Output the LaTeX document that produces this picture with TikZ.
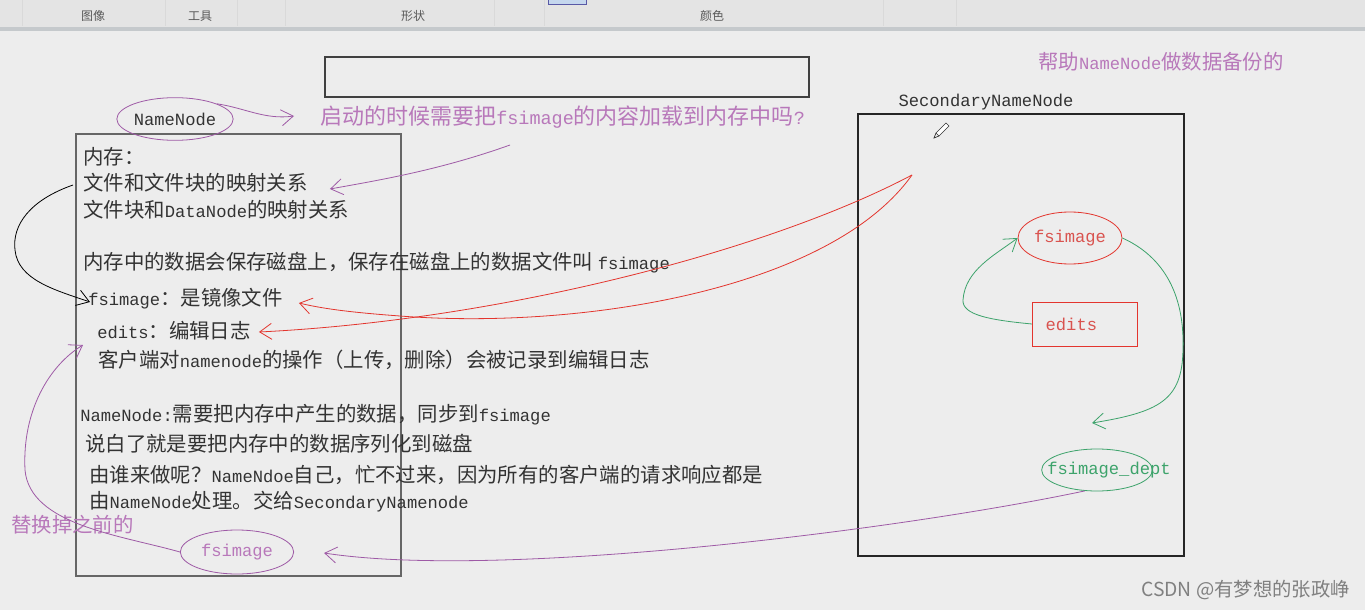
\documentclass[tikz,border=0pt]{standalone}
\usepackage{fontspec}
\setmainfont{Noto Sans CJK SC}
\newfontfamily\lat[Scale=0.84]{Liberation Mono}
\newcommand\la[1]{{\lat #1}}
\usetikzlibrary{arrows.meta,shapes.geometric}
\definecolor{bgpaper}{HTML}{EDEDED}
\definecolor{barbg}{HTML}{E4E4E4}
\definecolor{barline}{HTML}{C5C9CC}
\definecolor{ink}{HTML}{333333}
\definecolor{penpurple}{HTML}{9E5AA6}
\definecolor{txtpurple}{HTML}{B878BA}
\definecolor{penred}{HTML}{E3352E}
\definecolor{txtred}{HTML}{D9534F}
\definecolor{pengreen}{HTML}{3DA36B}
\definecolor{tabblue}{HTML}{C5D7EE}
\tikzset{
  body/.style={anchor=west,inner sep=0pt,text=ink,font=\fontsize{15.3}{18}\selectfont},
  note/.style={body,text=txtpurple},
  ring/.style={ellipse,draw,inner sep=0pt,line width=0.6pt},
  pen/.style={line width=0.6pt,-{Straight Barb[length=9pt,width=12pt,line width=0.6pt]}},
  barlabel/.style={inner sep=0pt,text=black!65,font=\fontsize{9}{10}\selectfont}
}
\begin{document}
\begin{tikzpicture}[x=0.75pt,y=-0.75pt]
\useasboundingbox (0,0) rectangle (1365,610);
\fill[bgpaper] (0,0) rectangle (1365,610);
\fill[barbg] (0,0) rectangle (1365,27);
\fill[barline] (0,27) rectangle (1365,31);
\foreach \sx in {22,165,237,285,494,544,883,956}
  \draw[black!15] (\sx,0) -- (\sx,26);
\filldraw[fill=tabblue,draw=blue!30!gray] (548,-2) rectangle (586,4);
\node[barlabel] (tabimg) at (93,16) {图像};
\node[barlabel] (tabtool) at (200,16) {工具};
\node[barlabel] (tabshape) at (413,16) {形状};
\node[barlabel] (tabcolor) at (712,16) {颜色};

\draw[black!75,line width=0.8pt] (325,57) rectangle (809,97);
\draw[black!60,line width=0.9pt] (76,134) rectangle (401,576);
\draw[black!85,line width=0.9pt] (858,114) rectangle (1184,556);

\node[ring,draw=penpurple,text=ink,minimum width=72pt,minimum height=32pt,font=\fontsize{15.3}{18}\selectfont] (nn) at (175,119) {\la{NameNode}};
\node[note,font=\fontsize{16.5}{19}\selectfont] (qst) at (320,117) {启动的时候需要把\la{fsimage}的内容加载到内存中吗\la{?}};
\coordinate (qtip) at (294,116);
\coordinate (qtail) at (510,145);

\node[body] (mem) at (83,157) {内存：};
\node[body] (map1) at (83,183) {文件和文件块的映射关系};
\node[body] (map2) at (83,210) {文件块和\la{DataNode}的映射关系};
\node[body] (save) at (83,263) {内存中的数据会保存磁盘上，保存在磁盘上的数据文件叫 \la{fsimage}};
\node[body] (fsi) at (88,299) {\la{fsimage}：是镜像文件};
\node[body] (edt) at (97,331) {\la{edits}：编辑日志};
\node[body] (cli) at (98,360) {客户端对\la{namenode}的操作（上传，删除）会被记录到编辑日志};
\node[body] (sync) at (80,415) {\la{NameNode:}需要把内存中产生的数据，同步到\la{fsimage}};
\node[body] (ser) at (85,444) {说白了就是要把内存中的数据序列化到磁盘};
\node[body] (who) at (89,475) {由谁来做呢？\la{NameNdoe}自己，忙不过来，因为所有的客户端的请求响应都是};
\node[body] (snn) at (89,502) {由\la{NameNode}处理。交给\la{SecondaryNamenode}};

\node[note] (swap) at (11,525) {替换掉之前的};
\node[ring,draw=penpurple,text=txtpurple,minimum width=85pt,minimum height=33pt,font=\fontsize{15.3}{18}\selectfont] (old) at (237,552) {\la{fsimage}};

\node[note] (help) at (1038,62) {帮助\la{NameNode}做数据备份的};
\node[body,anchor=center] (sname) at (986,102) {\la{SecondaryNameNode}};
\filldraw[fill=white,draw=ink,line width=0.5pt] (936,133) -- (946,123) -- (949,126) -- (939,136) -- cycle;
\draw[ink,line width=0.5pt] (936,133) -- (934,138) -- (939,136);

\node[ring,draw=penred,text=txtred,minimum width=78pt,minimum height=39pt,font=\fontsize{15.3}{18}\selectfont] (img) at (1070,238) {\la{fsimage}};
\node[draw=penred,line width=0.6pt,text=txtred,minimum height=33pt,inner xsep=10pt,text width=59pt,align=left,font=\fontsize{15.3}{18}\selectfont] (eds) at (1085,324) {\la{edits}};
\node[ring,draw=pengreen,minimum width=83pt,minimum height=31.5pt] (dept) at (1097,470) {};
\node[body,text=pengreen] (depttxt) at (1047,470) {\la{fsimage\_dept}};
\coordinate (greentip) at (1092,423);
\coordinate (redsrc) at (912,175);

\node[inner sep=0pt,anchor=east,text=black!50,font=\fontsize{14.5}{16}\selectfont] (mark) at (1350,590) {CSDN @有梦想的张政峥};

\draw[pen,penpurple] (nn.20) .. controls (245,108) and (265,120) .. (qtip);
\draw[pen,penpurple] (qtail) .. controls (440,170) and (380,180) .. ([shift={(22,6)}]map1.east);
\draw[pen,black] ([shift={(-10,2)}]map1.west) .. controls (30,200) and (12,225) .. (15,250)
  .. controls (18,280) and (55,290) .. ([shift={(2,3)}]fsi.west);
\draw[pen,penred] (redsrc) .. controls (830,290) and (580,330) .. (400,316)
  .. controls (345,312) and (320,308) .. ([shift={(16,4)}]fsi.east);
\draw[pen,penred] (redsrc) .. controls (770,250) and (503,320) .. ([shift={(8,1)}]edt.east);
\draw[pen,pengreen] (eds.west) .. controls (990,320) and (962,315) .. (963,300)
  .. controls (965,270) and (995,255) .. (img.west);
\draw[pen,pengreen] (img.east) .. controls (1160,255) and (1185,290) .. (1183,350)
  .. controls (1182,400) and (1160,412) .. (greentip);
\draw[pen,penpurple] (dept.240) .. controls (900,530) and (500,580) .. ([shift={(30,1)}]old.east);
\draw[pen,penpurple] (old.west) .. controls (120,535) and (30,525) .. (25,470)
  .. controls (22,410) and (50,365) .. ([shift={(-14,14)}]edt.west);
\end{tikzpicture}
\end{document}
